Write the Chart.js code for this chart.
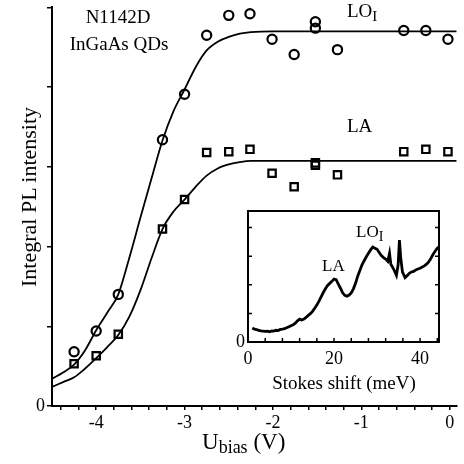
<!DOCTYPE html>
<html>
<head>
<meta charset="utf-8">
<script src="https://cdn.jsdelivr.net/npm/chart.js@4/dist/chart.umd.min.js"></script>
<style>
  body { margin: 0; background: #fff; }
  #wrap { position: relative; width: 464px; height: 464px; overflow: hidden; }
  #main { position: absolute; left: 0; top: 0; }
  #inset { position: absolute; left: 220px; top: 200px; }
  .lbl { position: absolute; font-family: 'Liberation Serif', serif; line-height: 1; white-space: nowrap; color: #000; }
  .sub { position: relative; }
</style>
</head>
<body>
<div id="wrap">
  <canvas id="main" width="464" height="464"></canvas>
  <canvas id="inset" width="236" height="200"></canvas>

  <div class="lbl" style="left:118px;top:7px;font-size:19px;transform:translateX(-50%)">N1142D</div>
  <div class="lbl" style="left:119px;top:34px;font-size:19px;transform:translateX(-50%)">InGaAs QDs</div>
  <div class="lbl" style="left:347px;top:1px;font-size:19px">LO<span class="sub" style="font-size:15px;top:4px">I</span></div>
  <div class="lbl" style="left:347px;top:116px;font-size:19px">LA</div>
  <div class="lbl" style="left:356px;top:223px;font-size:17px">LO<span class="sub" style="font-size:14px;top:4px">I</span></div>
  <div class="lbl" style="left:322px;top:257px;font-size:17px">LA</div>
  <div class="lbl" style="left:344px;top:373px;font-size:19px;transform:translateX(-50%)">Stokes shift (meV)</div>
  <div class="lbl" style="left:202px;top:430px;font-size:23px">U<span class="sub" style="font-size:18px;top:4px">bias</span> (V)</div>
  <div class="lbl" style="left:28.5px;top:197px;font-size:22px;transform:translate(-50%,-50%) rotate(-90deg)">Integral PL intensity</div>
</div>

<script>
var serif = "'Liberation Serif', serif";

// measured points, bias in V, intensity in arb. units (axis ticks = 1)
var biasPts = [-4.25, -4.0, -3.75, -3.25, -3.0, -2.75, -2.5, -2.26, -2.01, -1.76, -1.52, -1.52, -1.27, -0.52, -0.27, -0.02];
var loPts = [0.68, 0.94, 1.40, 3.34, 3.91, 4.65, 4.90, 4.92, 4.60, 4.41, 4.82, 4.74, 4.47, 4.71, 4.71, 4.60];
var laPts = [0.53, 0.63, 0.90, 2.22, 2.59, 3.18, 3.19, 3.22, 2.92, 2.75, 3.05, 3.02, 2.90, 3.19, 3.22, 3.19];

// fitted curves
var fitBias = [-4.5, -4.375, -4.25, -4.125, -4.0, -3.875, -3.75, -3.625, -3.5, -3.375, -3.25, -3.125, -3.0, -2.875, -2.75, -2.625, -2.5, -2.375, -2.25, -2.0, -1.0, 0.08];
var loFit = [0.34, 0.42, 0.52, 0.70, 0.95, 1.17, 1.40, 1.86, 2.36, 2.85, 3.33, 3.70, 3.97, 4.25, 4.46, 4.57, 4.63, 4.67, 4.69, 4.70, 4.70, 4.70];
var laFit = [0.24, 0.30, 0.36, 0.47, 0.60, 0.74, 0.89, 1.12, 1.45, 1.85, 2.22, 2.44, 2.59, 2.75, 2.89, 2.98, 3.03, 3.06, 3.075, 3.075, 3.075, 3.075];

// inset spectrum
var stokes = [1.0, 1.5, 2.0, 2.5, 3.0, 3.5, 4.0, 4.5, 5.0, 5.5, 6.0, 6.5, 7.0, 7.5, 8.0, 8.5, 9.0, 9.5, 10, 10.5, 11, 11.5, 12, 12.5, 13, 13.5, 14, 14.5, 15, 15.5, 16, 16.5, 17, 17.5, 18, 18.5, 19, 19.5, 20, 20.5, 21, 21.5, 22, 22.5, 23, 23.5, 24, 24.5, 25, 25.5, 26, 26.5, 27, 27.5, 28, 28.5, 29, 29.5, 30, 30.5, 31, 31.5, 32, 32.5, 32.9, 33.2, 33.6, 34, 34.5, 34.9, 35.2, 35.5, 35.9, 36.5, 37, 37.5, 38, 38.5, 39, 39.5, 40, 40.5, 41, 41.5, 42, 42.5, 43, 43.5, 44, 44.3];
var specPL = [0.49, 0.45, 0.43, 0.41, 0.39, 0.38, 0.37, 0.38, 0.36, 0.39, 0.38, 0.41, 0.40, 0.44, 0.45, 0.47, 0.50, 0.53, 0.57, 0.60, 0.66, 0.74, 0.80, 0.77, 0.80, 0.86, 0.93, 0.99, 1.07, 1.18, 1.29, 1.43, 1.58, 1.73, 1.86, 1.98, 2.05, 2.12, 2.20, 2.18, 2.02, 1.88, 1.72, 1.63, 1.60, 1.64, 1.72, 1.86, 2.05, 2.30, 2.50, 2.70, 2.84, 2.98, 3.10, 3.22, 3.32, 3.28, 3.24, 3.13, 3.02, 2.95, 2.90, 2.82, 3.10, 2.72, 2.62, 2.50, 2.33, 2.70, 3.56, 2.95, 2.45, 2.25, 2.32, 2.40, 2.45, 2.47, 2.52, 2.55, 2.58, 2.62, 2.66, 2.72, 2.80, 2.92, 3.06, 3.17, 3.28, 3.32];

var mainTicks = ['-4', '-3', '-2', '-1', '0'];
var insetTicks = ['0', '20', '40'];

function pairs(xs, ys) {
    var out = [];
    for (var i = 0; i < xs.length; i++) out.push({ x: xs[i], y: ys[i] });
    return out;
}

function labelIf(list) {
    return function(v) {
        var r = Math.round(v);
        if (Math.abs(v - r) < 1e-6 && list.indexOf(String(r)) >= 0) return String(r);
        return '';
    };
}

function noPad(s) {
    s.paddingLeft = 0; s.paddingRight = 0; s.paddingTop = 0; s.paddingBottom = 0;
}

new Chart(document.getElementById('main'), {
    type: 'scatter',
    data: {
        datasets: [
            { data: pairs(fitBias, loFit), showLine: true, pointRadius: 0, borderColor: '#000', borderWidth: 1.8, cubicInterpolationMode: 'monotone' },
            { data: pairs(fitBias, laFit), showLine: true, pointRadius: 0, borderColor: '#000', borderWidth: 1.8, cubicInterpolationMode: 'monotone' },
            { data: pairs(biasPts, loPts), pointStyle: 'circle', pointRadius: 4.6, borderWidth: 2.2, borderColor: '#000', backgroundColor: 'rgba(0,0,0,0)' },
            { data: pairs(biasPts, laPts), pointStyle: 'rect', pointRadius: 5.2, borderWidth: 2.2, borderColor: '#000', backgroundColor: 'rgba(0,0,0,0)' }
        ]
    },
    options: {
        responsive: false,
        animation: false,
        layout: { padding: { top: 5, left: 0, right: 0, bottom: 0 } },
        plugins: { legend: { display: false }, tooltip: { enabled: false } },
        scales: {
            x: {
                type: 'linear', min: -4.5, max: 0.078,
                border: { display: true, color: '#000', width: 2 },
                grid: { drawOnChartArea: false, drawTicks: true, tickLength: 4, color: '#000', lineWidth: 1.5 },
                ticks: { stepSize: 0.2, includeBounds: false, autoSkip: false, maxRotation: 0, padding: 2, color: '#000', font: { family: serif, size: 18 }, callback: labelIf(mainTicks) },
                afterFit: function(s) { s.height = 58; noPad(s); }
            },
            y: {
                type: 'linear', min: 0, max: 5,
                border: { display: true, color: '#000', width: 2 },
                grid: { drawOnChartArea: false, drawTicks: true, tickLength: 5, color: '#000', lineWidth: 1.5 },
                ticks: { stepSize: 1, autoSkip: false, padding: 2, color: '#000', font: { family: serif, size: 18 }, callback: labelIf(['0']) },
                afterFit: function(s) { s.width = 52; noPad(s); }
            }
        }
    }
});

// box + inward tick marks of the inset
var insetFrame = {
    id: 'insetFrame',
    beforeDraw: function(chart) {
        var a = chart.chartArea, ctx = chart.ctx;
        ctx.save();
        ctx.fillStyle = '#fff';
        ctx.fillRect(a.left, a.top, a.right - a.left, a.bottom - a.top);
        ctx.restore();
    },
    afterDraw: function(chart) {
        var ctx = chart.ctx, a = chart.chartArea, sx = chart.scales.x, sy = chart.scales.y;
        ctx.save();
        ctx.strokeStyle = '#000';
        ctx.lineWidth = 2;
        ctx.strokeRect(a.left, a.top, a.right - a.left, a.bottom - a.top);
        ctx.lineWidth = 1.5;
        ctx.beginPath();
        sx.ticks.forEach(function(t) {
            var p = sx.getPixelForValue(t.value);
            ctx.moveTo(p, a.bottom); ctx.lineTo(p, a.bottom - 4);
        });
        sy.ticks.forEach(function(t) {
            var p = sy.getPixelForValue(t.value);
            ctx.moveTo(a.left, p); ctx.lineTo(a.left + 4, p);
            ctx.moveTo(a.right, p); ctx.lineTo(a.right - 4, p);
        });
        ctx.stroke();
        ctx.restore();
    }
};

new Chart(document.getElementById('inset'), {
    type: 'scatter',
    data: {
        datasets: [
            { data: pairs(stokes, specPL), showLine: true, pointRadius: 0, borderColor: '#000', borderWidth: 2.8, tension: 0 }
        ]
    },
    options: {
        responsive: false,
        animation: false,
        layout: { padding: { top: 11, left: 0, right: 17, bottom: 0 } },
        plugins: { legend: { display: false }, tooltip: { enabled: false } },
        scales: {
            x: {
                type: 'linear', min: 0, max: 44.4,
                border: { display: false },
                grid: { display: false, drawTicks: false },
                ticks: { stepSize: 4, includeBounds: false, autoSkip: false, maxRotation: 0, padding: 6, color: '#000', font: { family: serif, size: 18 }, callback: labelIf(insetTicks) },
                afterFit: function(s) { s.height = 58; noPad(s); }
            },
            y: {
                type: 'linear', min: 0, max: 4.58,
                border: { display: false },
                grid: { display: false, drawTicks: false },
                ticks: { stepSize: 1, includeBounds: false, autoSkip: false, padding: 3, color: '#000', font: { family: serif, size: 18 }, callback: labelIf(['0']) },
                afterFit: function(s) { s.width = 28; noPad(s); }
            }
        }
    },
    plugins: [insetFrame]
});
</script>
</body>
</html>
